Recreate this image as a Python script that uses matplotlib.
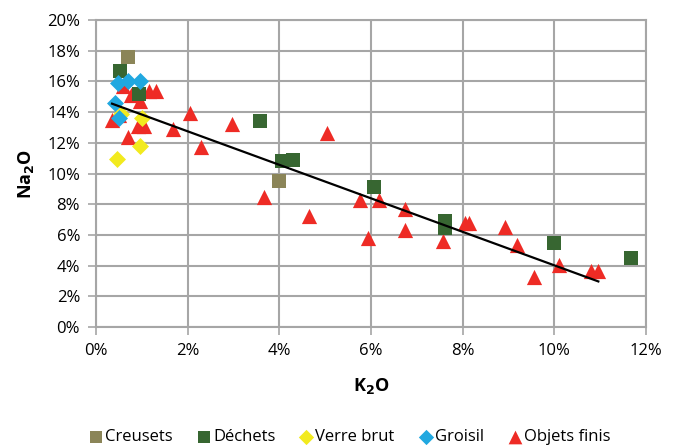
import matplotlib
matplotlib.use("Agg")
import matplotlib.pyplot as plt
import numpy as np
from matplotlib.ticker import FuncFormatter, MultipleLocator

plt.rcParams['font.family'] = ['Open Sans', 'DejaVu Sans']

# Data (K2O %, Na2O %)
creusets_x = [0.70, 4.00]
creusets_y = [17.6, 9.5]

dechets_x = [0.52, 0.93, 3.58, 4.05, 4.30, 6.07, 7.62, 7.62, 10.00, 11.67]
dechets_y = [16.7, 15.2, 13.4, 10.8, 10.9, 9.15, 6.9, 6.45, 5.5, 4.5]

verre_x = [0.45, 0.95, 1.00, 0.55]
verre_y = [10.95, 11.8, 13.6, 13.9]

groisil_x = [0.42, 0.50, 0.47, 0.69, 0.95]
groisil_y = [14.6, 13.6, 15.9, 16.0, 16.0]

objets_x = [0.35, 0.51, 0.69, 0.91, 1.05, 0.76, 0.95, 1.16, 1.31, 0.58, 1.67,
            2.04, 2.29, 2.97, 5.03, 3.67, 4.65, 5.75, 6.18, 5.94, 6.74, 6.74,
            7.56, 8.05, 8.14, 8.92, 9.18, 9.56, 10.10, 10.79, 10.96]
objets_y = [13.5, 13.8, 12.4, 13.1, 13.1, 15.1, 14.7, 15.4, 15.4, 15.7, 12.9,
            13.96, 11.75, 13.2, 12.66, 8.5, 7.2, 8.27, 8.27, 5.78, 7.7, 6.3,
            5.6, 6.8, 6.8, 6.5, 5.34, 3.28, 4.04, 3.67, 3.67]

fig = plt.figure(figsize=(6.76, 4.45), dpi=100)
ax = fig.add_axes([96/676, 1-327/445, (646-96)/676, (327-20)/445])

ax.set_xlim(0, 12)
ax.set_ylim(0, 20)
ax.xaxis.set_major_locator(MultipleLocator(2))
ax.yaxis.set_major_locator(MultipleLocator(2))
ax.xaxis.set_major_formatter(FuncFormatter(lambda v, p: f"{v:.0f}%"))
ax.yaxis.set_major_formatter(FuncFormatter(lambda v, p: f"{v:.0f}%"))
ax.grid(True, color='#A6A6A6', linewidth=1.5, zorder=0)
ax.set_axisbelow(True)
for s in ax.spines.values():
    s.set_color('#A6A6A6')
    s.set_linewidth(1.5)
ax.tick_params(length=5.5, width=1.2, color='#A6A6A6', direction='out',
               labelsize=12, pad=6, labelcolor='#000000')

sq = 105
ax.scatter(creusets_x, creusets_y, marker='s', s=sq, color='#8B8558', label='Creusets', zorder=3, linewidths=0)
ax.scatter(dechets_x, dechets_y, marker='s', s=sq, color='#376631', label='Déchets', zorder=3, linewidths=0)
ax.scatter(verre_x, verre_y, marker='D', s=75, color='#F2EA1E', label='Verre brut', zorder=3, linewidths=0)
ax.scatter(groisil_x, groisil_y, marker='D', s=75, color='#21A8E0', label='Groisil', zorder=3, linewidths=0)
ax.scatter(objets_x, objets_y, marker='^', s=120, color='#EE2B25', label='Objets finis', zorder=2, linewidths=0)

# Linear trend line for Objets finis
ox = np.array(objets_x)
oy = np.array(objets_y)
slope, intercept = np.polyfit(ox, oy, 1)
tx = np.array([ox.min(), ox.max()])
ax.plot(tx, slope*tx + intercept, color='black', linewidth=1.6, zorder=4)

ax.set_xlabel('K$_\\mathbf{2}$O', fontsize=13, fontweight='bold', labelpad=12)
ax.set_ylabel('Na$_\\mathbf{2}$O', fontsize=13, fontweight='bold', labelpad=8)

handles, labels = ax.get_legend_handles_labels()
leg = fig.legend(handles, labels, loc='center', bbox_to_anchor=(350/676, 1-437/445), ncol=5,
                 frameon=False, fontsize=12, handletextpad=0.15, columnspacing=1.45,
                 markerscale=0.9, handlelength=0.8)

fig.savefig('out.png', dpi=100)
